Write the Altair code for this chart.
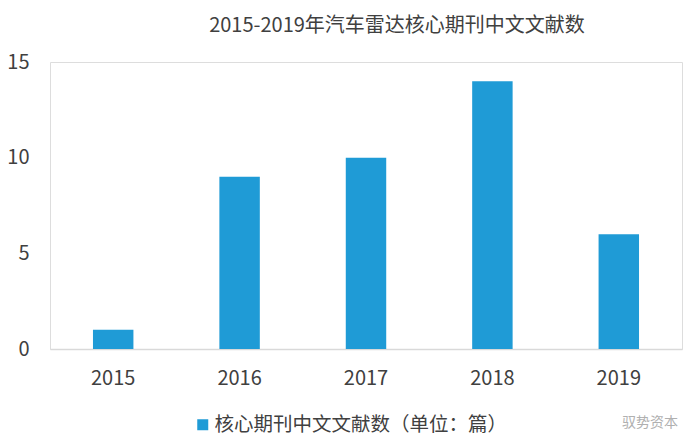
import altair as alt
import pandas as pd

years = ["2015", "2016", "2017", "2018", "2019"]
counts = [1, 9, 10, 14, 6]
series_name = "核心期刊中文文献数（单位：篇）"
title_text = "2015-2019年汽车雷达核心期刊中文文献数"
watermark = ["驭势资本"]

FONT = "Noto Sans CJK SC"
TEXT = "#404040"
BAR = "#1F9BD6"

df = pd.DataFrame({"year": years, "count": counts, "series": [series_name] * len(years)})

bars = alt.Chart(df).mark_bar(color=BAR).encode(
    x=alt.X(
        "year:N",
        sort=years,
        title=None,
        scale=alt.Scale(paddingInner=0.68, paddingOuter=0.34),
        axis=alt.Axis(
            labelAngle=0, labelFontSize=20, labelColor=TEXT, labelFont=FONT,
            labelPadding=19, ticks=False, domainColor="#d9d9d9", domainWidth=1.5,
            grid=False,
        ),
    ),
    y=alt.Y(
        "count:Q",
        title=None,
        scale=alt.Scale(domain=[0, 15]),
        axis=alt.Axis(
            values=[0, 5, 10, 15], labelFontSize=20, labelColor=TEXT, labelFont=FONT,
            labelPadding=21, ticks=False, domain=False, grid=False,
        ),
    ),
    color=alt.Color(
        "series:N",
        title=None,
        scale=alt.Scale(range=[BAR]),
        legend=alt.Legend(
            orient="none", legendX=143, legendY=353, symbolType="square",
            symbolSize=121, symbolStrokeWidth=0, labelFontSize=19.5, labelFont=FONT,
            labelColor=TEXT, labelOffset=2, padding=0, labelLimit=400,
        ),
    ),
)

wm = alt.Chart(pd.DataFrame({"t": watermark})).mark_text(
    font=FONT, fontSize=14, color="#b0b0b0", align="center", baseline="middle"
).encode(text="t:N", x=alt.value(600), y=alt.value(361))

chart = alt.layer(bars, wm).properties(
    width=632,
    height=287,
    padding={"left": 42, "top": 54, "right": 8, "bottom": 90},
    autosize=alt.AutoSizeParams(type="none"),
    title=alt.TitleParams(
        title_text, font=FONT, fontSize=20, fontWeight="normal", color=TEXT,
        anchor="middle", dx=31, offset=16,
    ),
).configure_view(stroke=None).configure(background="white")

chart.save("out.html", embed_options={"renderer": "svg", "actions": False})
